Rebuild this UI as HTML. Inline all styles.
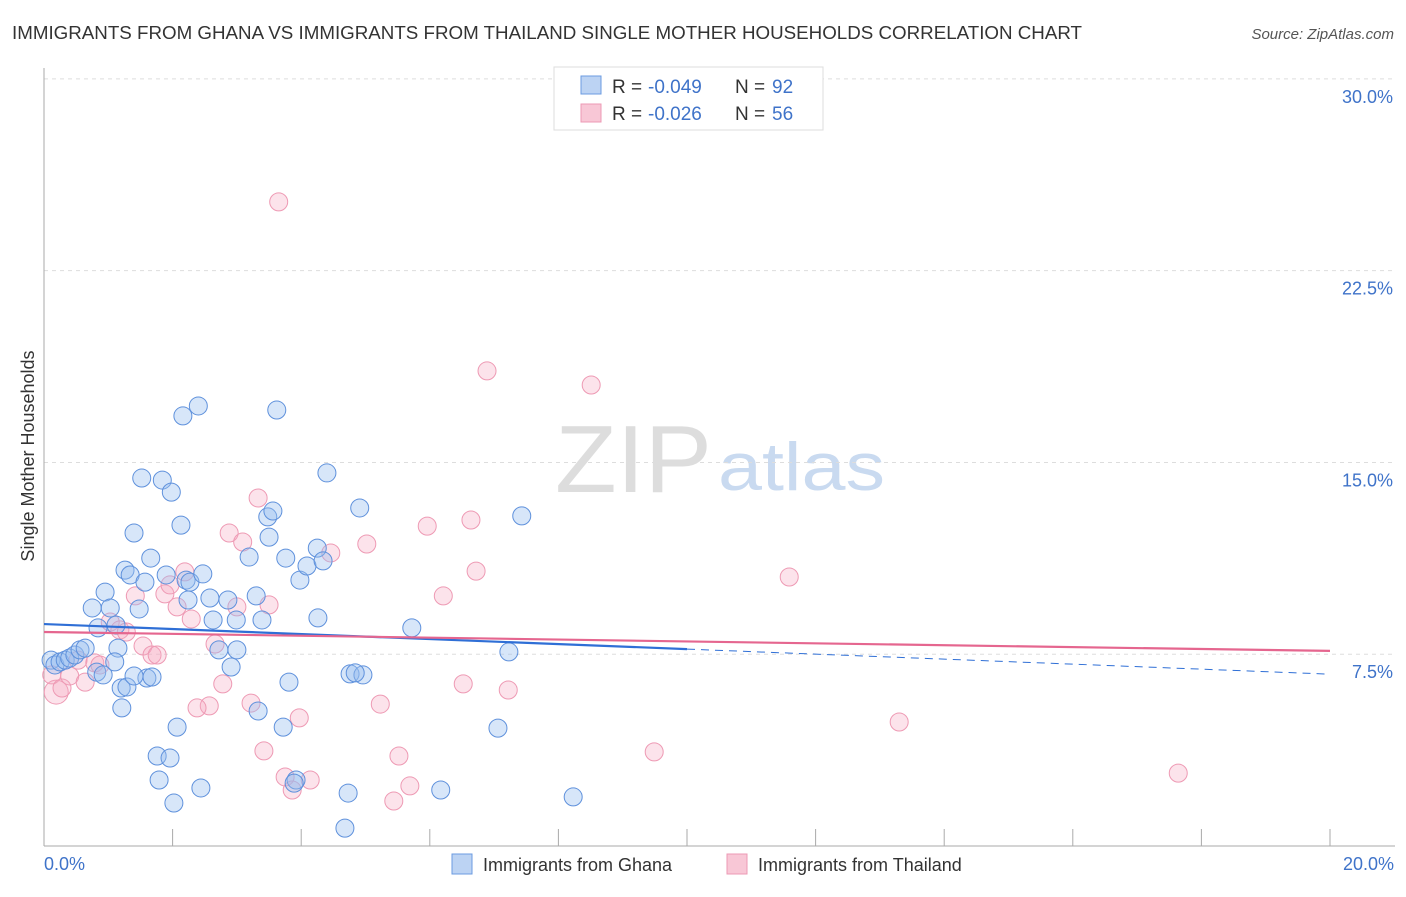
<!DOCTYPE html>
<html><head><meta charset="utf-8"><style>
body{margin:0;background:#fff;font-family:"Liberation Sans",sans-serif;}
svg text{font-family:"Liberation Sans",sans-serif;}
</style></head><body>
<svg id="chart" width="1406" height="892" viewBox="0 0 1406 892">
<text x="12" y="39" font-size="18" fill="#333" textLength="1070" lengthAdjust="spacingAndGlyphs">IMMIGRANTS FROM GHANA VS IMMIGRANTS FROM THAILAND SINGLE MOTHER HOUSEHOLDS CORRELATION CHART</text>
<text x="1394" y="39" font-size="15" fill="#555" font-style="italic" text-anchor="end">Source: ZipAtlas.com</text>
<text x="555" y="492" font-size="96" fill="#ddd" font-family="Liberation Serif" textLength="157" lengthAdjust="spacingAndGlyphs">ZIP</text>
<text x="718" y="490" font-size="68" fill="#c9daf0" textLength="167" lengthAdjust="spacingAndGlyphs">atlas</text>
<g id="grid"></g>
<g id="axes"></g>
<g id="pink"></g>
<g id="blue"></g>
<g id="trends"></g>
<text transform="translate(34,456) rotate(-90)" font-size="18" fill="#333" text-anchor="middle">Single Mother Households</text>
<text x="44" y="870" font-size="18" fill="#3f73c9">0.0%</text>
<text x="1394" y="870" font-size="18" fill="#3f73c9" text-anchor="end">20.0%</text>
<g>
<rect x="554" y="67" width="269" height="63" fill="#fff" stroke="#ddd"/>
<rect x="581" y="76" width="20" height="18" fill="#bcd3f3" stroke="#6b9be0"/>
<rect x="581" y="104" width="20" height="18" fill="#f8c7d6" stroke="#ec9ab4"/>
<text x="612" y="93" font-size="19" fill="#333">R =</text>
<text x="648" y="93" font-size="19" fill="#3f73c9">-0.049</text>
<text x="735" y="93" font-size="19" fill="#333">N =</text>
<text x="772" y="93" font-size="19" fill="#3f73c9">92</text>
<text x="612" y="120" font-size="19" fill="#333">R =</text>
<text x="648" y="120" font-size="19" fill="#3f73c9">-0.026</text>
<text x="735" y="120" font-size="19" fill="#333">N =</text>
<text x="772" y="120" font-size="19" fill="#3f73c9">56</text>
</g>
<g>
<rect x="452" y="854" width="20" height="20" fill="#bcd3f3" stroke="#6b9be0"/>
<text x="483" y="871" font-size="18" fill="#333">Immigrants from Ghana</text>
<rect x="727" y="854" width="20" height="20" fill="#f8c7d6" stroke="#ec9ab4"/>
<text x="758" y="871" font-size="18" fill="#333">Immigrants from Thailand</text>
</g>
</svg>
<script>
const yTicks=[7.5,15,22.5,30];
const yTickLabels=["7.5%","15.0%","22.5%","30.0%"];
const xTicks=[0,2,4,6,8,10,12,14,16,18,20];
const blueX=[0.11,0.17,0.25,0.33,0.40,0.48,0.56,0.64,0.75,0.84,0.95,1.03,1.12,1.15,1.10,0.82,0.92,1.20,1.29,1.21,1.26,1.34,1.40,1.48,1.57,1.66,1.52,1.84,1.98,2.13,2.16,2.40,1.90,2.21,2.27,2.24,2.47,2.58,2.63,2.86,2.99,2.72,2.91,3.00,3.39,3.30,3.19,3.48,3.56,3.50,3.62,3.76,3.98,4.09,4.25,4.34,4.26,4.40,4.91,3.81,3.33,3.72,2.07,1.76,1.96,1.79,2.02,2.44,3.92,3.89,4.73,4.68,6.17,4.76,4.96,4.84,5.72,7.23,7.06,7.43,8.23,1.60,1.68,1.40];
const blueY=[7.27,7.08,7.20,7.27,7.35,7.47,7.67,7.74,9.31,8.53,9.93,9.31,8.64,7.74,7.20,6.80,6.69,6.18,6.22,5.40,10.79,10.60,12.24,9.27,10.32,11.26,14.39,14.31,13.84,12.55,16.82,17.21,10.60,10.40,10.32,9.62,10.64,9.70,8.84,9.62,8.84,7.67,7.00,7.67,8.84,9.78,11.30,12.87,13.10,12.08,17.05,11.26,10.40,10.95,11.65,11.15,8.92,14.59,13.22,6.41,5.28,4.65,4.65,3.52,3.44,2.58,1.68,2.27,2.58,2.46,2.07,0.70,2.19,6.73,6.69,6.77,8.53,7.59,4.61,12.91,1.92,6.57,6.61,6.65];
const pinkX=[0.19,0.12,0.28,0.40,0.64,0.53,0.79,1.03,1.18,1.28,0.87,1.42,1.54,1.68,1.76,1.88,1.96,2.07,2.19,2.29,2.66,2.78,2.57,2.38,2.88,3.00,3.09,3.22,3.33,3.50,3.42,3.75,3.86,3.97,4.14,4.46,5.02,5.23,5.44,5.52,5.69,5.96,6.21,6.52,6.64,6.72,6.89,7.22,8.51,9.49,11.59,13.30,17.64,3.65];
const pinkY=[6.02,6.69,6.18,6.65,6.41,7.27,7.16,8.76,8.45,8.37,7.08,9.78,7.82,7.47,7.47,9.86,10.21,9.35,10.72,8.88,7.90,6.34,5.48,5.40,12.24,9.35,11.89,5.59,13.61,9.43,3.72,2.70,2.19,5.01,2.58,11.46,11.81,5.55,1.76,3.52,2.35,12.51,9.78,6.34,12.75,10.75,18.58,6.10,18.03,3.68,10.52,4.85,2.85,25.19];
const blueTrend=[8.68,7.70,6.72];
const pinkTrend=[8.37,7.63];
const X0=44,X1=1330,Y0=846,PPY=25.57;
const sx=v=>X0+(v/20)*(X1-X0);
const sy=v=>Y0-v*PPY;
const NS="http://www.w3.org/2000/svg";
function mk(tag,parent,attrs){const e=document.createElementNS(NS,tag);for(const k in attrs)e.setAttribute(k,attrs[k]);document.getElementById(parent).appendChild(e);return e;}
yTicks.forEach((t,i)=>{
 const l=mk('line','grid',{x1:44,x2:1395,y1:sy(t),y2:sy(t),stroke:'#ddd','stroke-dasharray':'4,4'});
 
 
 const tx=mk('text','grid',{x:1393,y:sy(t)+24,'font-size':18,fill:'#3f73c9','text-anchor':'end'});
 tx.textContent=yTickLabels[i];
 
 
});
const ax=mk('line','axes',{x1:44,x2:44,y1:68,y2:846,stroke:'#aaa'});


const bx=mk('line','axes',{x1:44,x2:1395,y1:846,y2:846,stroke:'#aaa'});


xTicks.forEach(t=>{
 const l=mk('line','axes',{x1:sx(t),x2:sx(t),y1:829,y2:846,stroke:'#aaa'});
 
 
});
pinkX.forEach((v,i)=>{
 const c=mk('circle','pink',{cx:sx(v),cy:sy(pinkY[i]),r:i===0?12:9,fill:'rgba(245,170,195,0.33)',stroke:'#ee9ab4','stroke-width':1});
 
 
});
blueX.forEach((v,i)=>{
 const c=mk('circle','blue',{cx:sx(v),cy:sy(blueY[i]),r:9,fill:'rgba(150,190,240,0.38)',stroke:'#5f91dc','stroke-width':1});
 
 
});
const bt1=mk('line','trends',{x1:sx(0),y1:sy(blueTrend[0]),x2:sx(10),y2:sy(blueTrend[1]),stroke:'#2f6fd6','stroke-width':2.2});


const bt2=mk('line','trends',{x1:sx(10),y1:sy(blueTrend[1]),x2:sx(20),y2:sy(blueTrend[2]),stroke:'#2f6fd6','stroke-width':1,'stroke-dasharray':'8,6'});


const pt=mk('line','trends',{x1:sx(0),y1:sy(pinkTrend[0]),x2:sx(20),y2:sy(pinkTrend[1]),stroke:'#e5668f','stroke-width':2.2});


</script>
</body></html>
